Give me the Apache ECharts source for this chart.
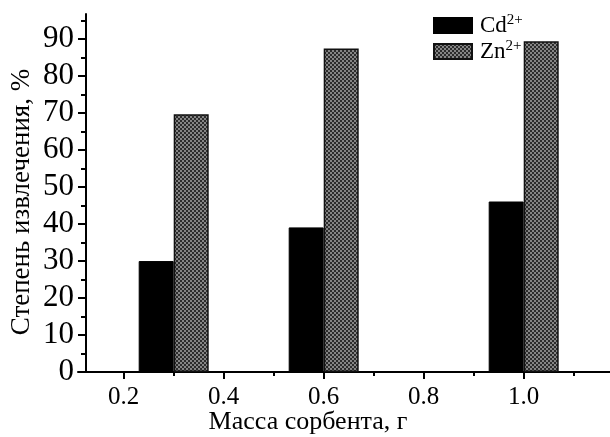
<!DOCTYPE html>
<html>
<head>
<meta charset="utf-8">
<script src="https://cdn.jsdelivr.net/npm/echarts@6/dist/echarts.min.js"></script>
<style>
  html, body { margin: 0; padding: 0; background: #fff; }
  #chart { width: 610px; height: 437px; }
</style>
</head>
<body>
<div id="chart"></div>
<script>
// Sorbent mass, g (bar group centres)
const masses = [0.3, 0.6, 1.0];
// Extraction degree, %
const cdValues = [30.0, 39.1, 46.1];
const znValues = [69.7, 87.5, 89.4];
// Axis ticks
const xMajorTicks = [0.2, 0.4, 0.6, 0.8, 1.0];
const xMinorTicks = [0.3, 0.5, 0.7, 0.9, 1.1];
const yMajorTicks = [0, 10, 20, 30, 40, 50, 60, 70, 80, 90];
const yMinorTicks = [5, 15, 25, 35, 45, 55, 65, 75, 85, 95];

const X_MIN = 0.1086, X_MAX = 1.1726;
const Y_MIN = 0, Y_MAX = 96.8;

const FONT = '"Liberation Serif", "Times New Roman", serif';

// checkered fill for the Zn2+ bars
function checkerPattern() {
  const c = document.createElement('canvas');
  c.width = 4; c.height = 4;
  const g = c.getContext('2d');
  g.fillStyle = '#858585';
  g.fillRect(0, 0, 4, 4);
  g.fillStyle = '#2c2c2c';
  g.fillRect(0, 0, 2, 2);
  g.fillRect(2, 2, 2, 2);
  return { image: c, repeat: 'repeat' };
}

const chart = echarts.init(document.getElementById('chart'), null, { renderer: 'canvas' });

const GRID = { left: 78, right: 0, top: 14, bottom: 65 };
const gridW = 610 - GRID.left - GRID.right;
const gridH = 437 - GRID.top - GRID.bottom;
const Y_AXIS_SHIFT = 8; // y axis sits a little right of where the x axis line begins

const lineStyle = { color: '#000', width: 2 };

chart.setOption({
  animation: false,
  backgroundColor: '#fff',
  grid: {
    left: GRID.left, right: GRID.right, top: GRID.top, bottom: GRID.bottom,
    containLabel: false,
    outerBoundsMode: 'none'
  },
  legend: {
    orient: 'vertical',
    left: 433,
    top: 13,
    padding: 0,
    itemWidth: 38,
    itemHeight: 15,
    itemGap: 2,
    icon: 'rect',
    data: ['Cd', 'Zn'],
    formatter: function (name) {
      return '{b|' + name + '}{s|2+}';
    },
    textStyle: {
      color: '#000',
      fontFamily: FONT,
      rich: {
        b: { fontFamily: FONT, fontSize: 23, color: '#000', padding: [0, 0, 0, 3] },
        s: { fontFamily: FONT, fontSize: 15, color: '#000', verticalAlign: 'top', padding: [0, 0, 10, 0] }
      }
    }
  },
  xAxis: [
    {
      type: 'value',
      position: 'bottom',
      min: X_MIN,
      max: X_MAX,
      axisLine: { show: true, onZero: false, lineStyle: lineStyle },
      axisTick: { show: true, inside: false, length: 7, lineStyle: { color: '#000', width: 2 }, customValues: xMajorTicks },
      axisLabel: {
        show: true,
        customValues: xMajorTicks,
        margin: 13,
        color: '#000',
        fontFamily: FONT,
        fontSize: 25,
        formatter: function (v) { return v.toFixed(1); }
      },
      splitLine: { show: false },
      name: 'Масса сорбента, г',
      nameLocation: 'middle',
      nameGap: 37,
      nameMoveOverlap: false,
      nameTextStyle: { color: '#000', fontFamily: FONT, fontSize: 26, padding: [0, 72, 0, 0] }
    },
    {
      // minor ticks; this axis lands at the top and is pulled back onto the bottom line
      type: 'value',
      position: 'top',
      min: X_MIN,
      max: X_MAX,
      offset: -gridH,
      axisLine: { show: false },
      axisTick: { show: true, inside: true, length: 4, lineStyle: { color: '#000', width: 2 }, customValues: xMinorTicks },
      axisLabel: { show: false },
      splitLine: { show: false }
    }
  ],
  yAxis: [
    {
      type: 'value',
      position: 'left',
      offset: -Y_AXIS_SHIFT,
      min: Y_MIN,
      max: Y_MAX,
      axisLine: { show: true, onZero: false, lineStyle: lineStyle },
      axisTick: { show: true, inside: false, length: 8, lineStyle: { color: '#000', width: 2 }, customValues: yMajorTicks },
      axisLabel: {
        show: true,
        customValues: yMajorTicks,
        margin: 12,
        color: '#000',
        fontFamily: FONT,
        fontSize: 31
      },
      splitLine: { show: false },
      name: 'Степень извлечения, %',
      nameLocation: 'middle',
      nameGap: 51,
      nameMoveOverlap: false,
      nameTextStyle: { color: '#000', fontFamily: FONT, fontSize: 27, padding: [0, 18, 0, 0] }
    },
    {
      // minor ticks; this axis lands at the right and is pulled back onto the left line
      type: 'value',
      position: 'right',
      min: Y_MIN,
      max: Y_MAX,
      offset: -(gridW - Y_AXIS_SHIFT),
      axisLine: { show: false },
      axisTick: { show: true, inside: true, length: 5, lineStyle: { color: '#000', width: 2 }, customValues: yMinorTicks },
      axisLabel: { show: false },
      splitLine: { show: false }
    }
  ],
  series: [
    {
      name: 'Cd',
      type: 'bar',
      xAxisIndex: 0,
      yAxisIndex: 0,
      barWidth: 35,
      barGap: '0%',
      itemStyle: { color: '#000', borderColor: '#000', borderWidth: 1 },
      data: masses.map(function (m, i) { return [m, cdValues[i]]; })
    },
    {
      name: 'Zn',
      type: 'bar',
      xAxisIndex: 0,
      yAxisIndex: 0,
      barWidth: 35,
      barGap: '0%',
      itemStyle: { color: checkerPattern(), borderColor: '#111', borderWidth: 1.5 },
      data: masses.map(function (m, i) { return [m, znValues[i]]; })
    }
  ]
});
</script>
</body>
</html>
